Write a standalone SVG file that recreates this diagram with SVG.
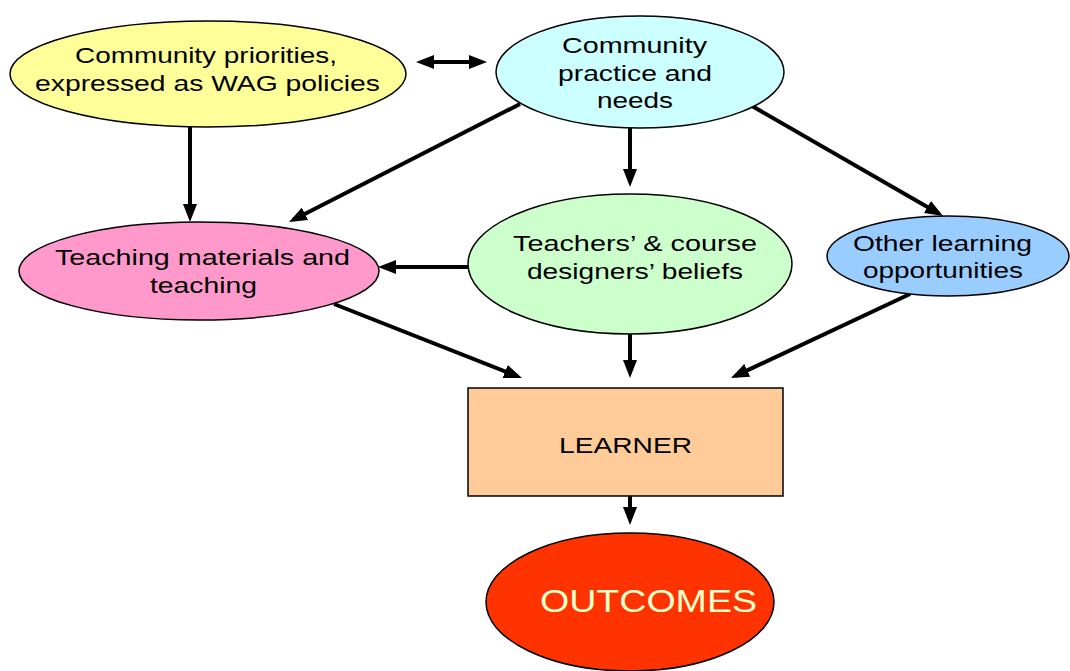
<svg xmlns="http://www.w3.org/2000/svg" width="1070" height="671" viewBox="0 0 1070 671">
<style>
.n{stroke:#000;stroke-width:1.5}
.t{font-family:"Liberation Sans",Arial,sans-serif;font-size:22px;fill:#000;text-anchor:middle}
.c line{stroke:#000;stroke-width:4}
</style>
<defs>
<marker id="ah" markerUnits="userSpaceOnUse" markerWidth="18" markerHeight="14" refX="13" refY="7" orient="auto-start-reverse" viewBox="0 0 18 14">
<path d="M0,0 L18,7 L0,14 z" fill="#000"/>
</marker>
</defs>
<rect width="1070" height="671" fill="#fff"/>
<g class="c" id="connectors">
<line x1="421" y1="62" x2="482" y2="62" marker-start="url(#ah)" marker-end="url(#ah)"/>
<line x1="190" y1="127" x2="190" y2="217" marker-end="url(#ah)"/>
<line x1="520" y1="104" x2="293.5" y2="219.7" marker-end="url(#ah)"/>
<line x1="630" y1="128" x2="630" y2="182" marker-end="url(#ah)"/>
<line x1="752" y1="106" x2="938.7" y2="213.5" marker-end="url(#ah)"/>
<line x1="468" y1="267" x2="383" y2="267" marker-end="url(#ah)"/>
<line x1="334" y1="304" x2="517.3" y2="376.2" marker-end="url(#ah)"/>
<line x1="630" y1="334" x2="630" y2="373" marker-end="url(#ah)"/>
<line x1="910" y1="294" x2="735.5" y2="375.9" marker-end="url(#ah)"/>
<line x1="630" y1="496" x2="630" y2="520" marker-end="url(#ah)"/>
</g>
<g id="community-priorities">
<ellipse class="n" cx="208" cy="74" rx="198" ry="53" fill="#FFFF99"/>
<text class="t" x="206" y="63" textLength="262" lengthAdjust="spacingAndGlyphs">Community priorities,</text>
<text class="t" x="207.5" y="91" textLength="345" lengthAdjust="spacingAndGlyphs">expressed as WAG policies</text>
</g>
<g id="community-practice">
<ellipse class="n" cx="640" cy="72" rx="144" ry="56" fill="#CCFFFF"/>
<text class="t" x="634.5" y="53" textLength="145" lengthAdjust="spacingAndGlyphs">Community</text>
<text class="t" x="635" y="81" textLength="154" lengthAdjust="spacingAndGlyphs">practice and</text>
<text class="t" x="635" y="108" textLength="76" lengthAdjust="spacingAndGlyphs">needs</text>
</g>
<g id="teaching-materials">
<ellipse class="n" cx="199" cy="271" rx="180" ry="49" fill="#FF99CC"/>
<text class="t" x="202.5" y="265" textLength="295" lengthAdjust="spacingAndGlyphs">Teaching materials and</text>
<text class="t" x="203.5" y="293" textLength="107" lengthAdjust="spacingAndGlyphs">teaching</text>
</g>
<g id="beliefs">
<ellipse class="n" cx="630" cy="264" rx="162" ry="70" fill="#CCFFCC"/>
<text class="t" x="635" y="251" textLength="244" lengthAdjust="spacingAndGlyphs">Teachers’ &amp; course</text>
<text class="t" x="635" y="279" textLength="216" lengthAdjust="spacingAndGlyphs">designers’ beliefs</text>
</g>
<g id="other-learning">
<ellipse class="n" cx="948" cy="256" rx="121" ry="40" fill="#99CCFF"/>
<text class="t" x="942.5" y="251" textLength="179" lengthAdjust="spacingAndGlyphs">Other learning</text>
<text class="t" x="943" y="278" textLength="160" lengthAdjust="spacingAndGlyphs">opportunities</text>
</g>
<g id="learner">
<rect class="n" x="468" y="388" width="315" height="108" fill="#FFCC99" stroke-width="3"/>
<text class="t" x="625.5" y="453" textLength="133" lengthAdjust="spacingAndGlyphs">LEARNER</text>
</g>
<g id="outcomes">
<ellipse class="n" cx="630" cy="602" rx="144" ry="69" fill="#FF3300"/>
<text class="t" x="648.5" y="612" style="font-size:31px;fill:#FFFFCC" textLength="217" lengthAdjust="spacingAndGlyphs">OUTCOMES</text>
</g>
</svg>
